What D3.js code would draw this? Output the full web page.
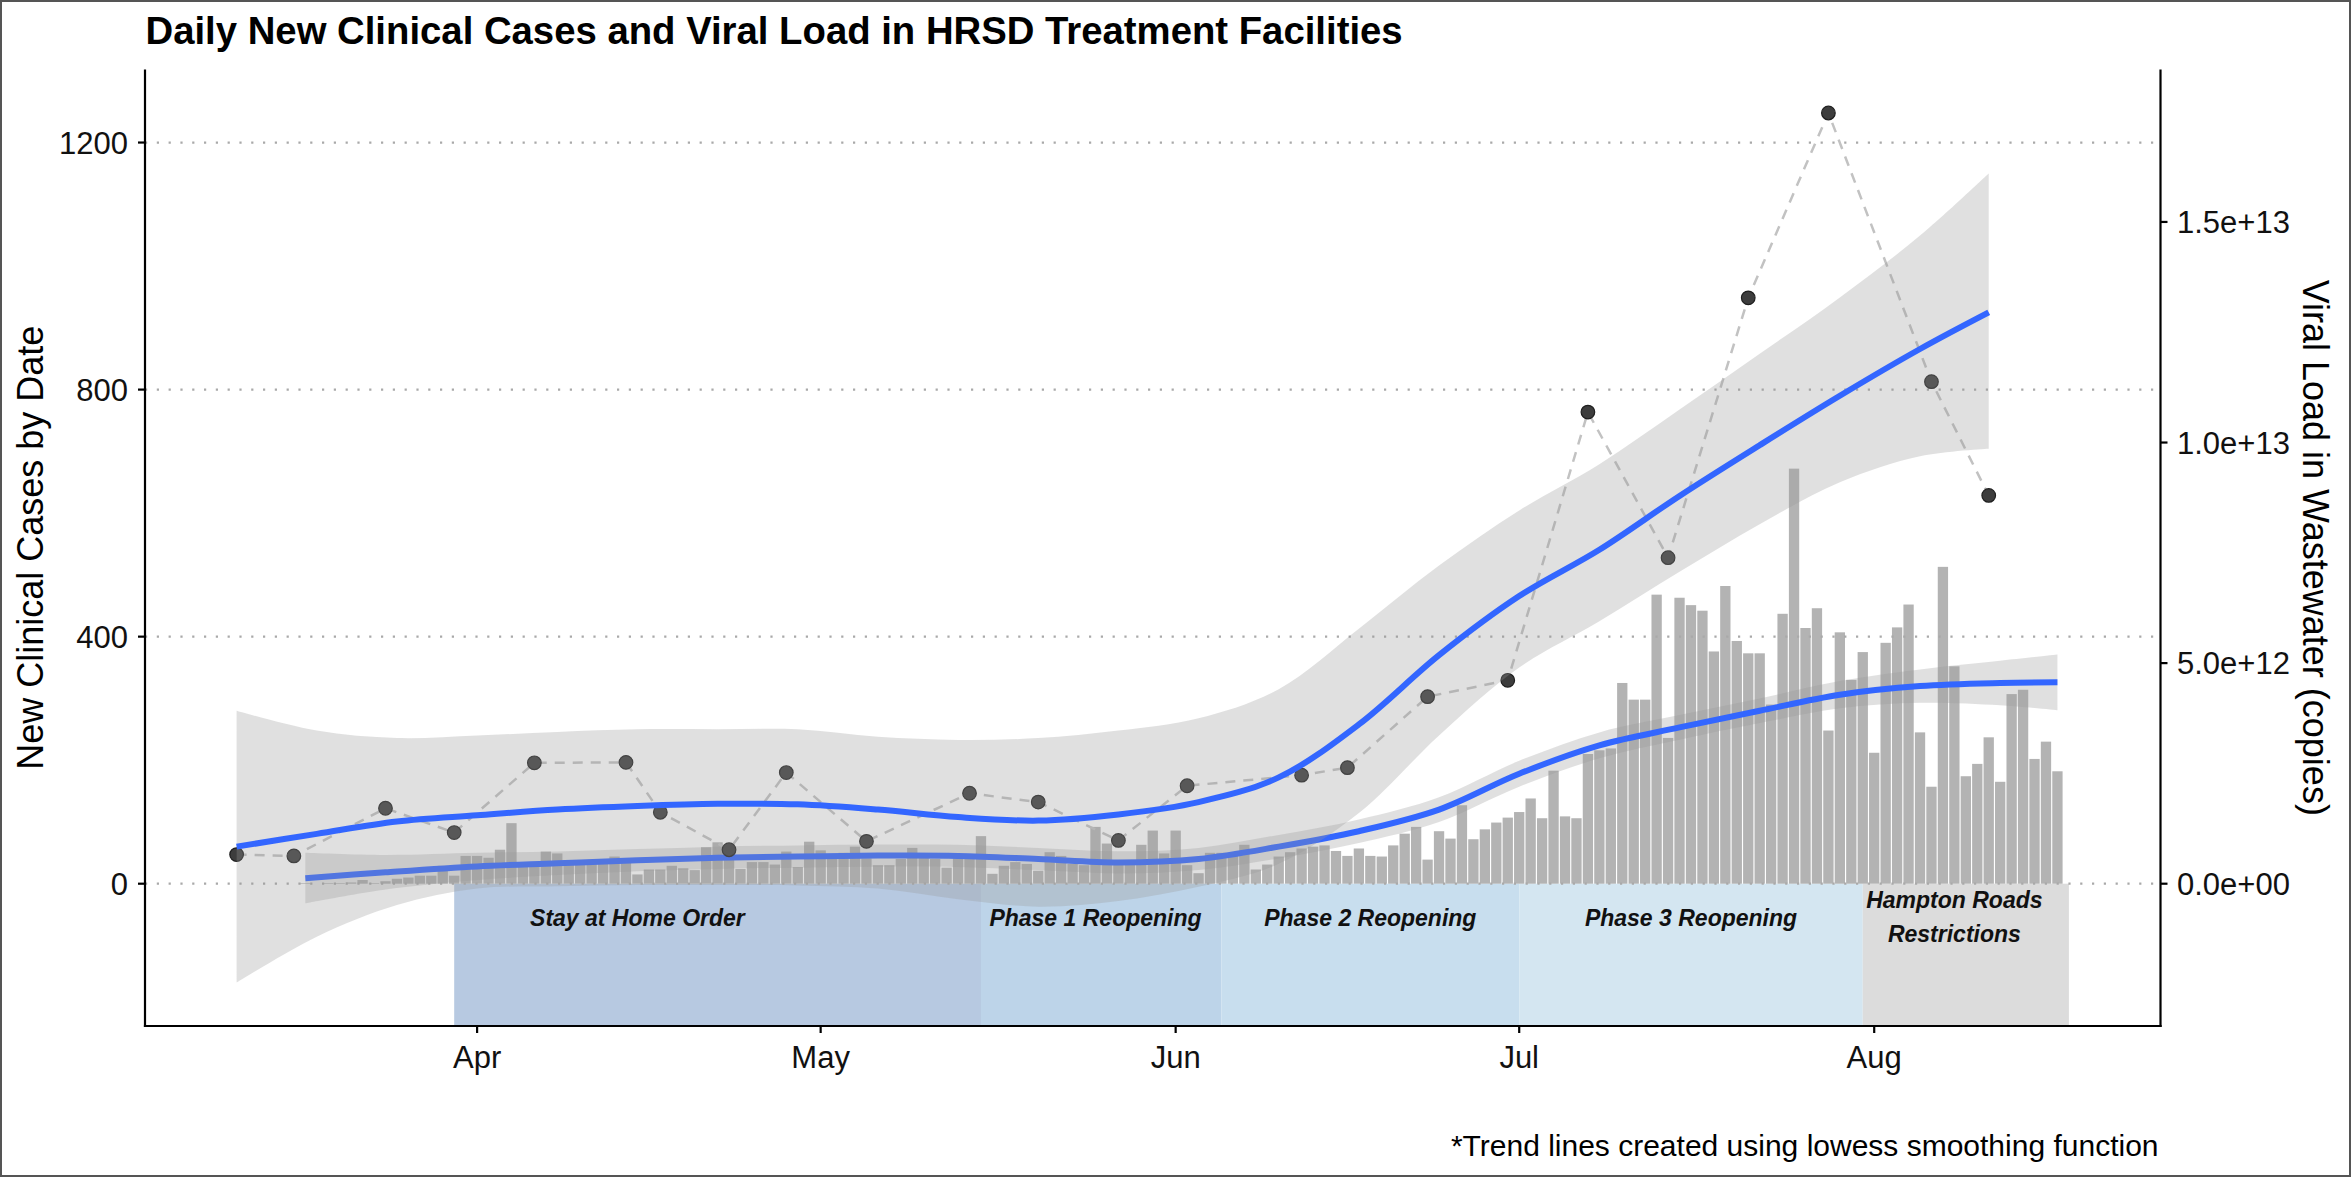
<!DOCTYPE html>
<html>
<head>
<meta charset="utf-8">
<script src="https://cdn.jsdelivr.net/npm/d3@7"></script>
<style>
  body { margin: 0; background: #ffffff; }
  svg { display: block; font-family: "Liberation Sans", Arial, Helvetica, sans-serif; }
</style>
</head>
<body>
<svg id="chart" width="2351" height="1177"></svg>
<script>
// ---- data ---------------------------------------------------------------
// Daily new clinical cases, one value per day starting on caseStart
const caseStart = "2020-03-17";
const dailyCases = [
  // Mar 17 - Mar 31
  1, 0, 1, 1, 2, 6, 1, 4, 8, 10, 13, 13, 29, 13, 45,
  // April
  45, 42, 55, 98, 30, 31, 52, 49, 33, 33, 34, 35, 44, 36, 15,
  23, 23, 29, 25, 22, 59, 67, 50, 24, 35, 35, 31, 52, 27, 68,
  // May
  54, 42, 50, 60, 41, 30, 30, 40, 58, 42, 40, 26, 41, 42, 77, 16,
  29, 35, 32, 21, 51, 45, 32, 30, 92, 65, 32, 32, 63, 86, 49,
  // June
  86, 30, 17, 50, 50, 45, 63, 23, 31, 44, 51, 57, 60, 62, 53,
  45, 57, 45, 44, 62, 81, 92, 39, 85, 73, 127, 72, 88, 99, 107,
  // July
  116, 138, 106, 183, 109, 106, 210, 216, 219, 325, 298, 298, 468, 236, 463, 451,
  442, 376, 482, 393, 373, 373, 290, 437, 672, 414, 446, 248, 407, 330, 375,
  // Aug 1 - Aug 17
  212, 390, 415, 452, 245, 157, 513, 352, 174, 194, 237, 165, 307, 314, 202, 230, 182
];

// Wastewater samples (viral load, copies)
const sampleDates = [
  "2020-03-11", "2020-03-16", "2020-03-24", "2020-03-30", "2020-04-06", "2020-04-14",
  "2020-04-17", "2020-04-23", "2020-04-28", "2020-05-05", "2020-05-14", "2020-05-20",
  "2020-05-27", "2020-06-02", "2020-06-12", "2020-06-16", "2020-06-23", "2020-06-30",
  "2020-07-07", "2020-07-14", "2020-07-21", "2020-07-28", "2020-08-06", "2020-08-11"
];
const viralLoad = [
  6.6e11, 6.3e11, 1.71e12, 1.16e12, 2.74e12, 2.75e12,
  1.62e12, 7.7e11, 2.52e12, 9.6e11, 2.05e12, 1.85e12,
  9.8e11, 2.22e12, 2.46e12, 2.63e12, 4.24e12, 4.61e12,
  1.069e13, 7.39e12, 1.328e13, 1.747e13, 1.138e13, 8.80e12
];

// Lowess trend of the viral load with its confidence band (units of 1e12 copies)
const viralTrendDates = [
  "2020-03-11", "2020-03-18", "2020-03-25", "2020-04-01", "2020-04-08", "2020-04-15",
  "2020-04-22", "2020-04-29", "2020-05-06", "2020-05-13", "2020-05-20", "2020-05-27",
  "2020-06-03", "2020-06-10", "2020-06-17", "2020-06-24", "2020-07-01", "2020-07-08",
  "2020-07-15", "2020-07-22", "2020-07-29", "2020-08-05", "2020-08-11"
];
const viralTrendFit = [
  0.84, 1.13, 1.41, 1.55, 1.68, 1.76, 1.81, 1.80, 1.68, 1.51, 1.43, 1.57,
  1.85, 2.41, 3.61, 5.18, 6.52, 7.57, 8.79, 9.94, 11.06, 12.12, 12.95
];
const viralTrendHigh = [
  3.92, 3.47, 3.30, 3.36, 3.44, 3.50, 3.50, 3.50, 3.33, 3.26, 3.30, 3.47,
  3.75, 4.41, 5.78, 7.21, 8.46, 9.51, 10.75, 12.01, 13.29, 14.69, 16.10
];
const viralTrendLow = [
  -2.24, -1.20, -0.48, -0.11, -0.06, -0.03, -0.03, -0.04, -0.11, -0.35, -0.52, -0.39,
  -0.07, 0.45, 1.60, 3.36, 4.90, 5.95, 7.07, 8.15, 9.10, 9.69, 9.86
];

// Lowess trend of daily cases with its confidence band
const caseTrendDates = [
  "2020-03-17", "2020-03-24", "2020-04-01", "2020-04-08", "2020-04-15", "2020-04-22",
  "2020-04-29", "2020-05-06", "2020-05-13", "2020-05-20", "2020-05-27", "2020-06-03",
  "2020-06-10", "2020-06-17", "2020-06-24", "2020-07-01", "2020-07-08", "2020-07-15",
  "2020-07-22", "2020-07-29", "2020-08-05", "2020-08-12", "2020-08-17"
];
const caseTrendFit = [
  9, 18.5, 28, 33, 38, 42, 44, 45.5, 45, 40, 34.5, 40,
  60, 85, 120, 178, 224, 253, 280, 306, 320, 325, 326
];
const caseTrendHigh = [
  50, 46.5, 50, 52, 56, 60, 62, 63.5, 63, 58, 52.5, 58,
  79, 104, 140, 199, 245, 273, 300, 328, 347, 361, 371
];
const caseTrendLow = [
  -32, -9.5, 6, 14, 20, 24, 26, 27.5, 27, 22, 16.5, 22,
  41, 66, 100, 157, 203, 233, 260, 284, 293, 289, 281
];

// Reopening phases
const phaseNames = [["Stay at Home Order"], ["Phase 1 Reopening"], ["Phase 2 Reopening"],
                    ["Phase 3 Reopening"], ["Hampton Roads", "Restrictions"]];
const phaseStarts = ["2020-03-30", "2020-05-15", "2020-06-05", "2020-07-01", "2020-07-31"];
const phaseEnds   = ["2020-05-15", "2020-06-05", "2020-07-01", "2020-07-31", "2020-08-18"];
const phaseLabelDates = ["2020-04-15", "2020-05-25", "2020-06-18", "2020-07-16", "2020-08-08"];
const phaseColors = ["#b7c9e1", "#bdd4e9", "#c8deee", "#d4e6f1", "#dcdcdc"];

// Axis ticks
const caseTicks = [0, 400, 800, 1200];
const viralTicks = [0, 5e12, 1e13, 1.5e13];
const monthTicks = ["2020-04-01", "2020-05-01", "2020-06-01", "2020-07-01", "2020-08-01"];

// Secondary axis: copies per case-axis unit
const viralPerCase = 1.4e10;

// ---- layout -------------------------------------------------------------
const W = 2351, H = 1177;
const panel = { left: 145, right: 2160.5, top: 69.5, bottom: 1026 };
const parse = d3.utcParse("%Y-%m-%d");
const DAY = 864e5;

const cases = dailyCases.map((v, i) => ({ date: new Date(parse(caseStart).getTime() + i * DAY), value: v }));
const samples = sampleDates.map((d, i) => ({ date: parse(d), value: viralLoad[i] }));
const viralTrend = viralTrendDates.map((d, i) => ({
  date: parse(d), fit: viralTrendFit[i] * 1e12, lo: viralTrendLow[i] * 1e12, hi: viralTrendHigh[i] * 1e12
}));
const caseTrend = caseTrendDates.map((d, i) => ({
  date: parse(d), fit: caseTrendFit[i], lo: caseTrendLow[i], hi: caseTrendHigh[i]
}));
const phases = phaseNames.map((n, i) => ({
  lines: n, start: parse(phaseStarts[i]), end: parse(phaseEnds[i]),
  label: parse(phaseLabelDates[i]), color: phaseColors[i]
}));

// x range with 5% padding on each side
const xMin = d3.min(samples, d => d.date);
const xMax = d3.max(phases, d => d.end);
const xPad = (xMax - xMin) * 0.05;
const x = d3.scaleUtc()
  .domain([new Date(+xMin - xPad), new Date(+xMax + xPad)])
  .range([panel.left, panel.right]);

// y range (case units) with 5% padding
const yLo = Math.min(d3.min(viralTrend, d => d.lo) / viralPerCase, d3.min(caseTrend, d => d.lo));
const yHi = Math.max(d3.max(samples, d => d.value) / viralPerCase, d3.max(viralTrend, d => d.hi) / viralPerCase);
const yPad = (yHi - yLo) * 0.05;
const y = d3.scaleLinear().domain([yLo - yPad, yHi + yPad]).range([panel.bottom, panel.top]);
const yViral = d3.scaleLinear().domain(y.domain().map(v => v * viralPerCase)).range(y.range());

const svg = d3.select("#chart");
svg.append("rect").attr("width", W).attr("height", H).attr("fill", "#ffffff");

// ---- phase backgrounds ---------------------------------------------------
svg.append("g").selectAll("rect").data(phases).join("rect")
  .attr("x", d => x(d.start))
  .attr("width", d => x(d.end) - x(d.start))
  .attr("y", y(0))
  .attr("height", panel.bottom - y(0))
  .attr("fill", d => d.color);

// ---- daily case bars -----------------------------------------------------
const barHalf = 0.45 * DAY;
svg.append("g").selectAll("rect").data(cases.filter(d => d.value > 0)).join("rect")
  .attr("x", d => x(new Date(+d.date - barHalf)))
  .attr("width", d => x(new Date(+d.date + barHalf)) - x(new Date(+d.date - barHalf)))
  .attr("y", d => y(d.value))
  .attr("height", d => y(0) - y(d.value))
  .attr("fill", "#b3b3b3");

// ---- dotted horizontal grid ----------------------------------------------
svg.append("g").selectAll("line").data(caseTicks).join("line")
  .attr("x1", panel.left).attr("x2", panel.right)
  .attr("y1", d => y(d)).attr("y2", d => y(d))
  .attr("stroke", "#a9a9a9").attr("stroke-width", 2.2)
  .attr("stroke-dasharray", "2.2 9.6");

const curve = d3.curveCatmullRom.alpha(0.5);

// ---- case trend ----------------------------------------------------------
svg.append("path").datum(caseTrend)
  .attr("d", d3.area().curve(curve).x(d => x(d.date)).y0(d => y(d.lo)).y1(d => y(d.hi)))
  .attr("fill", "#999999").attr("fill-opacity", 0.3);
svg.append("path").datum(caseTrend)
  .attr("d", d3.line().curve(curve).x(d => x(d.date)).y(d => y(d.fit)))
  .attr("fill", "none").attr("stroke", "#3366ff").attr("stroke-width", 6);

// ---- wastewater samples --------------------------------------------------
svg.append("path").datum(samples)
  .attr("d", d3.line().x(d => x(d.date)).y(d => yViral(d.value)))
  .attr("fill", "none").attr("stroke", "#c2c2c2").attr("stroke-width", 2.5)
  .attr("stroke-dasharray", "10 8");
svg.append("g").selectAll("circle").data(samples).join("circle")
  .attr("cx", d => x(d.date)).attr("cy", d => yViral(d.value)).attr("r", 6.8)
  .attr("fill", "#3d3d3d").attr("stroke", "#1f1f1f").attr("stroke-width", 1.2);

// ---- viral load trend ----------------------------------------------------
svg.append("path").datum(viralTrend)
  .attr("d", d3.area().curve(curve).x(d => x(d.date)).y0(d => yViral(d.lo)).y1(d => yViral(d.hi)))
  .attr("fill", "#999999").attr("fill-opacity", 0.3);
svg.append("path").datum(viralTrend)
  .attr("d", d3.line().curve(curve).x(d => x(d.date)).y(d => yViral(d.fit)))
  .attr("fill", "none").attr("stroke", "#3366ff").attr("stroke-width", 6);

// ---- phase labels --------------------------------------------------------
const labels = svg.append("g")
  .attr("font-size", 23).attr("font-weight", "bold").attr("font-style", "italic")
  .attr("text-anchor", "middle").attr("fill", "#111");
phases.forEach(p => {
  const t = labels.append("text").attr("x", x(p.label));
  if (p.lines.length === 1) {
    t.attr("y", 925.5).text(p.lines[0]);
  } else {
    p.lines.forEach((ln, i) => t.append("tspan").attr("x", x(p.label)).attr("y", 908 + i * 33.5).text(ln));
  }
});

// ---- axes ----------------------------------------------------------------
const axisColor = "#000";
const ax = svg.append("g").attr("stroke", axisColor).attr("stroke-width", 2.2);
ax.append("line").attr("x1", panel.left).attr("x2", panel.left).attr("y1", panel.top).attr("y2", panel.bottom + 1.1);
ax.append("line").attr("x1", panel.right).attr("x2", panel.right).attr("y1", panel.top).attr("y2", panel.bottom + 1.1);
ax.append("line").attr("x1", panel.left - 1.1).attr("x2", panel.right + 1.1).attr("y1", panel.bottom).attr("y2", panel.bottom);

const tickLen = 7;
ax.selectAll(".yl").data(caseTicks).join("line").attr("class", "yl")
  .attr("x1", panel.left - tickLen).attr("x2", panel.left).attr("y1", d => y(d)).attr("y2", d => y(d));
ax.selectAll(".yr").data(viralTicks).join("line").attr("class", "yr")
  .attr("x1", panel.right).attr("x2", panel.right + tickLen).attr("y1", d => yViral(d)).attr("y2", d => yViral(d));
ax.selectAll(".xb").data(monthTicks).join("line").attr("class", "xb")
  .attr("x1", d => x(parse(d))).attr("x2", d => x(parse(d)))
  .attr("y1", panel.bottom).attr("y2", panel.bottom + tickLen);

const tickFont = 31;
const sci = v => {
  if (v === 0) return "0.0e+00";
  const e = Math.floor(Math.log10(Math.abs(v)));
  return (v / Math.pow(10, e)).toFixed(1) + "e+" + String(e).padStart(2, "0");
};
svg.append("g").attr("font-size", tickFont).attr("fill", "#111").attr("text-anchor", "end")
  .selectAll("text").data(caseTicks).join("text")
  .attr("x", 128).attr("y", d => y(d)).attr("dy", "0.36em").text(d => d);
svg.append("g").attr("font-size", tickFont).attr("fill", "#111").attr("text-anchor", "start")
  .selectAll("text").data(viralTicks).join("text")
  .attr("x", 2177).attr("y", d => yViral(d)).attr("dy", "0.36em").text(sci);
const monthFmt = d3.utcFormat("%b");
svg.append("g").attr("font-size", tickFont).attr("fill", "#111").attr("text-anchor", "middle")
  .selectAll("text").data(monthTicks).join("text")
  .attr("x", d => x(parse(d))).attr("y", 1068).text(d => monthFmt(parse(d)));

// axis titles
const midY = (panel.top + panel.bottom) / 2;
svg.append("text").attr("transform", `translate(42.5,${midY}) rotate(-90)`)
  .attr("text-anchor", "middle").attr("font-size", 36).attr("fill", "#000")
  .text("New Clinical Cases by Date");
svg.append("text").attr("transform", `translate(2303,${midY}) rotate(90)`)
  .attr("text-anchor", "middle").attr("font-size", 36).attr("fill", "#000")
  .text("Viral Load in Wastewater (copies)");

// title and note
svg.append("text").attr("x", 145.5).attr("y", 44).attr("font-size", 38.3).attr("font-weight", "bold")
  .attr("fill", "#000").text("Daily New Clinical Cases and Viral Load in HRSD Treatment Facilities");
svg.append("text").attr("x", panel.right - 2).attr("y", 1156).attr("font-size", 30)
  .attr("text-anchor", "end").attr("fill", "#000")
  .text("*Trend lines created using lowess smoothing function");

// outer frame
svg.append("rect").attr("x", 1).attr("y", 1).attr("width", W - 2).attr("height", H - 2)
  .attr("fill", "none").attr("stroke", "#555").attr("stroke-width", 2);
</script>
</body>
</html>
